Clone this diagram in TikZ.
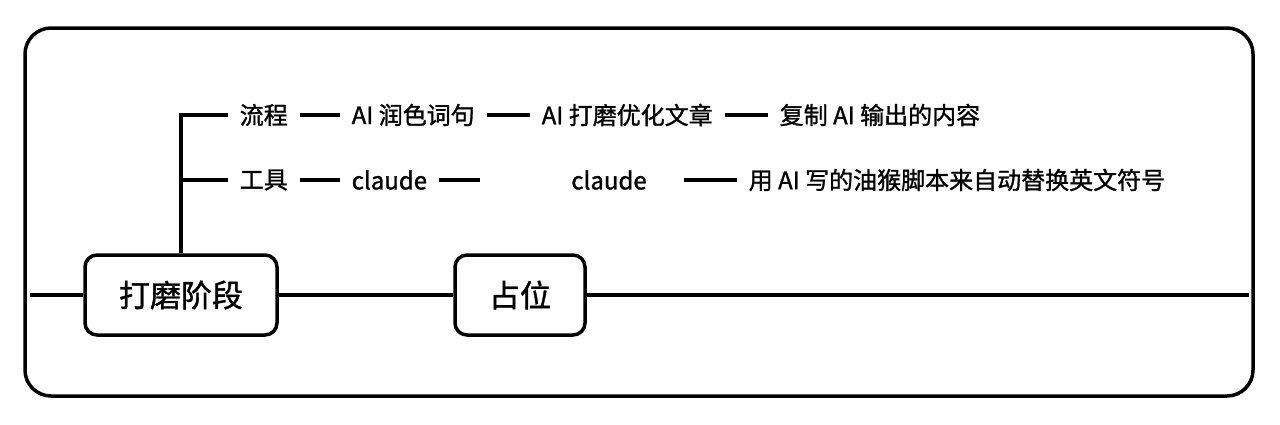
\documentclass[tikz,border=0pt]{standalone}
\usepackage{fontspec}
\setmainfont{Noto Sans CJK SC}[FakeBold=1.2]
\begin{document}
\begin{tikzpicture}[x=0.5pt,y=-0.5pt,line width=1.75pt,
  stage/.style={draw,rounded corners=6pt,minimum height=40pt,inner sep=0pt,font=\fontsize{15.5pt}{18pt}\selectfont},
  item/.style={anchor=west,inner xsep=5pt,inner ysep=0pt,font=\fontsize{12pt}{14pt}\selectfont}]
\useasboundingbox (0,0) rectangle (1280,424);
\draw[rounded corners=13pt] (25,28) rectangle (1253,396);
\node[stage,minimum width=96pt] (s1) at (181,295) {打磨阶段};
\node[stage,minimum width=65pt] (s2) at (520,295) {占位};
\coordinate (L) at (30,295);
\coordinate (R) at (1249,295);
\draw (L) -- (s1.west);
\draw (s1.east) -- (s2.west);
\draw (s2.east) -- (R);
% row 1
\node[item] (p) at (228,115) {流程};
\node[item] (a1) at (340,115) {AI 润色词句};
\node[item] (a2) at (530,115) {AI 打磨优化文章};
\node[item] (a3) at (768,115) {复制 AI 输出的内容};
% row 2
\node[item] (t) at (228,180) {工具};
\node[item] (c1) at (340,180) {claude};
\coordinate (e) at (480,180);
\node[item,anchor=center,minimum width=73pt] (c2) at (609,180) {claude};
\node[item] (d) at (737,180) {用 AI 写的油猴脚本来自动替换英文符号};
\coordinate (j2) at (181,180);
\draw (s1.north) |- (p.west);
\draw (j2) -- (t.west);
\draw (p) -- (a1);
\draw (a1) -- (a2);
\draw (a2) -- (a3);
\draw (t) -- (c1);
\draw (c1) -- (e);
\draw (c2) -- (d);
\end{tikzpicture}
\end{document}
